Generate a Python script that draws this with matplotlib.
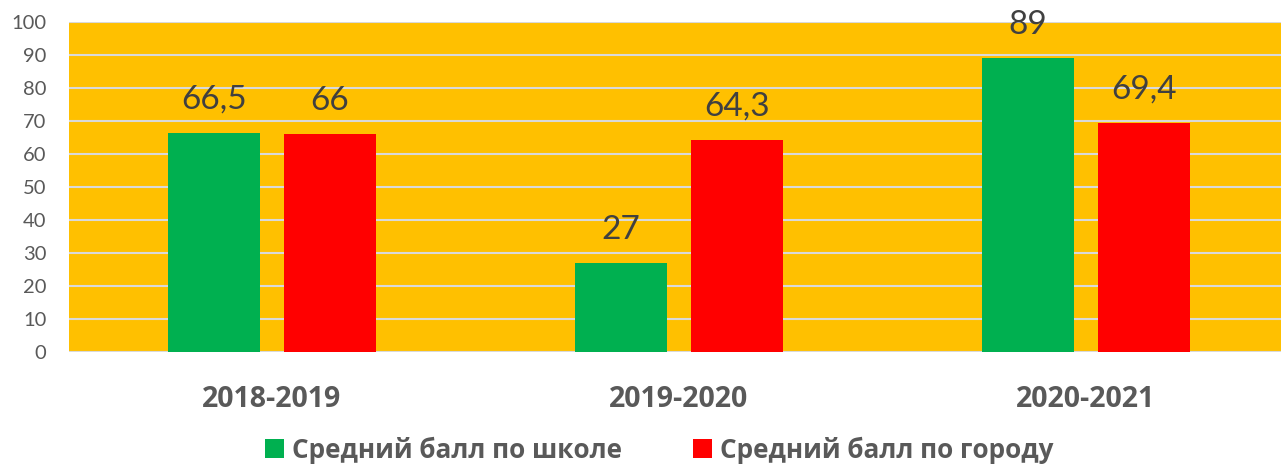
import numpy as np
import matplotlib.pyplot as plt

years = ['2018-2019', '2019-2020', '2020-2021']
school = [66.5, 27, 89]
city = [66, 64.3, 69.4]
school_labels = ['66,5', '27', '89']
city_labels = ['66', '64,3', '69,4']
series_names = ['Средний балл по школе', 'Средний балл по городу']

plt.rcParams['font.family'] = ['Lato', 'DejaVu Sans']
bold_font = ['Open Sans', 'DejaVu Sans']

fig = plt.figure(figsize=(12.81, 4.70), dpi=100)
# plot area runs a little past the right edge of the picture
ax = fig.add_axes([68.5 / 1281, 1 - 352 / 470, 1221 / 1281, 330 / 470])
ax.set_facecolor('#FFC000')

x = np.arange(len(years))
w = 0.226
b1 = ax.bar(x - 0.1425, school, w, color='#00B050', label=series_names[0], zorder=3)
b2 = ax.bar(x + 0.1425, city, w, color='#FF0000', label=series_names[1], zorder=3)

for bars, labels in ((b1, school_labels), (b2, city_labels)):
    for rect, lab in zip(bars, labels):
        ax.annotate(lab, (rect.get_x() + rect.get_width() / 2, rect.get_height()),
                    xytext=(0, 13), textcoords='offset points', ha='center', va='bottom',
                    fontsize=24, color='#404040', clip_on=False)

ax.set_xlim(-0.5, 2.5)
ax.set_ylim(0, 100)
ax.set_yticks(range(0, 101, 10))
ax.yaxis.grid(True, color='#D9D9D9', linewidth=1.5, zorder=1)
ax.set_axisbelow(True)
for s in ax.spines.values():
    s.set_visible(False)
ax.tick_params(axis='y', length=0, labelsize=14.5, labelcolor='#595959', pad=16)
ax.tick_params(axis='x', length=0, pad=24)
ax.set_xticks(x)
ax.set_xticklabels(years, fontsize=20.5, fontweight='bold', color='#595959', family=bold_font)

leg = fig.legend(loc='center', bbox_to_anchor=(659 / 1281, 1 - 450 / 470), ncol=2, frameon=False,
                 prop={'size': 18.8, 'weight': 'bold', 'family': bold_font},
                 handlelength=0.75, handleheight=0.75, handletextpad=0.3, columnspacing=2.7)
for t in leg.get_texts():
    t.set_color('#595959')

fig.savefig('out.png', dpi=100)
